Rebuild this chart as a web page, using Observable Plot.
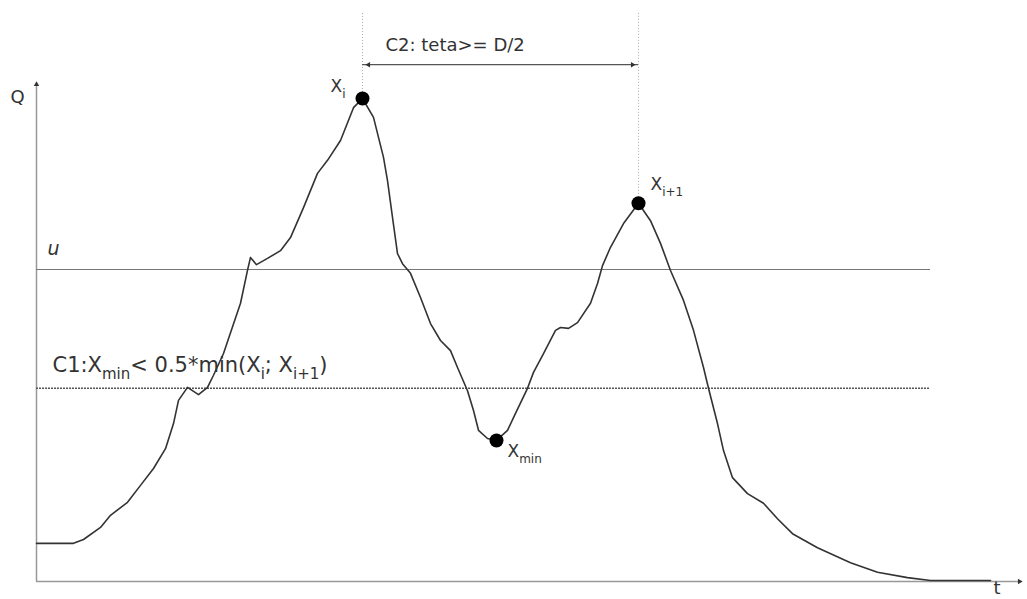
<!DOCTYPE html>
<html><head><meta charset="utf-8">
<script src="https://cdn.jsdelivr.net/npm/d3@7"></script>
<script src="https://cdn.jsdelivr.net/npm/@observablehq/plot@0.6"></script>
<style>body{margin:0;background:#fff;}</style>
</head><body><div id="chart"></div>
<script>
// Hydrograph (time t, discharge Q in arbitrary units)
const curveT = [0, 3.7, 4.7, 6.4, 7.4, 9.1, 10.4, 11.7, 12.9, 13.7, 14.2, 15.1, 16.2, 17.1, 17.7, 18.7, 20.4, 21.1, 21.4, 22.0, 23.1, 24.4, 25.4, 26.7, 28.1, 29.1, 30.4, 31.7, 32.6,
  33.7, 34.7, 35.1, 35.6, 36.1, 36.6, 37.4, 38.4, 39.4, 40.4, 41.4, 42.1, 43.1, 43.7, 44.2, 45.1, 46.0,
  47.1, 47.9, 49.1, 49.7, 50.7, 51.9, 52.4, 53.2, 54.1, 55.4, 56.1, 56.6, 57.4, 58.7, 60.2,
  61.4, 62.4, 63.4, 64.7, 65.7, 66.7, 67.2, 68.1, 68.7, 69.6, 71.1, 72.7, 74.1, 75.6, 78.1, 81.4, 84.1, 87.1, 89.4, 95.4];
const curveQ = [7.9, 7.9, 8.7, 11.2, 13.7, 16.4, 19.9, 23.4, 27.5, 32.7, 37.5, 40.2, 38.7, 40.2, 42.7, 47.2, 57.6, 64.4, 67.1, 65.6, 66.9, 68.5, 71.2, 77.4, 84.5, 87.2, 91.3, 98.1, 100,
  96.1, 87.8, 83.0, 75.4, 67.9, 65.8, 63.8, 58.8, 53.4, 49.9, 47.8, 44.3, 39.5, 35.4, 31.3, 29.6, 29.2,
  31.3, 34.8, 40.0, 43.3, 47.2, 52.0, 52.6, 52.4, 53.6, 57.6, 61.7, 65.4, 69.2, 74.1, 78.3,
  74.7, 70.0, 64.4, 58.2, 52.0, 44.3, 40.0, 32.7, 27.1, 21.5, 18.2, 16.2, 13.0, 9.9, 7.0, 3.9, 1.9, 0.8, 0.2, 0.2];

const peakLabels = ["X_{i}", "X_{i+1}", "X_{min}"];
const peakT = [32.6, 60.2, 46.0];
const peakQ = [100, 78.3, 29.2];

const thresholdU = 64.6;
const thresholdC1 = 40.0;
const thresholdEndT = 89.4;

const uLabel = "u";
const c1Label = "C1:X_{min}< 0.5*min(X_{i}; X_{i+1})";
const c2Label = "C2: teta>= D/2";
const yAxisLabel = "Q";
const xAxisLabel = "t";

const curve = curveT.map((t, i) => ({t, q: curveQ[i]}));
const peaks = peakLabels.map((l, i) => ({label: l, t: peakT[i], q: peakQ[i]}));
const textColor = "#333";

const plot = Plot.plot({
  width: 1027, height: 599,
  marginLeft: 36, marginRight: 3, marginTop: 78, marginBottom: 18,
  x: {domain: [0, 98.8], axis: null},
  y: {domain: [0, 104.14], axis: null},
  style: {fontFamily: "DejaVu Sans, Verdana, sans-serif", background: "#fff", overflow: "visible"},
  marks: [
    // axes
    Plot.ruleX([0], {y1: 0, y2: 103, stroke: "#999", strokeWidth: 1.5}),
    Plot.ruleY([0], {x1: 0, x2: 98.2, stroke: "#999", strokeWidth: 1.5}),
    Plot.dot([{t: 0, q: 102.9}], {x: "t", y: "q", symbol: "triangle2", r: 2.6, fill: "#333", rotate: 0}),
    Plot.dot([{t: 98.3, q: 0}], {x: "t", y: "q", symbol: "triangle2", r: 2.6, fill: "#333", rotate: 90}),
    // thresholds
    Plot.ruleY([thresholdU], {x1: 0, x2: thresholdEndT, stroke: "#777", strokeWidth: 1.2}),
    Plot.ruleY([thresholdC1], {x1: 0, x2: thresholdEndT, stroke: "#555", strokeWidth: 1.4, strokeDasharray: "2,1"}),
    // vertical dotted guides
    Plot.ruleX(peaks.slice(0, 2), {x: "t", y1: "q", y2: 117.7, stroke: "#aaa", strokeWidth: 1, strokeDasharray: "1,2"}),
    // C2 dimension arrow
    Plot.ruleY([107], {x1: peakT[0], x2: peakT[1], stroke: "#555", strokeWidth: 1.2}),
    Plot.dot([{t: peakT[0] + 0.6, q: 107, r: -90}, {t: peakT[1] - 0.6, q: 107, r: 90}], {x: "t", y: "q", rotate: "r", symbol: "triangle2", r: 2.6, fill: "#333"}),
    // hydrograph
    Plot.line(curve, {x: "t", y: "q", stroke: "#333", strokeWidth: 1.6, curve: "linear"}),
    Plot.dot(peaks, {x: "t", y: "q", r: 7, fill: "#000"}),
    // labels
    Plot.text([peaks[0]], {x: "t", y: "q", text: "label", dx: -32, dy: -12, textAnchor: "start", fontSize: 17, fill: textColor}),
    Plot.text([peaks[1]], {x: "t", y: "q", text: "label", dx: 12, dy: -19, textAnchor: "start", fontSize: 17, fill: textColor}),
    Plot.text([peaks[2]], {x: "t", y: "q", text: "label", dx: 11, dy: 11, textAnchor: "start", fontSize: 17, fill: textColor}),
    Plot.text([c2Label], {x: 34.9, y: 111, text: d => d, textAnchor: "start", fontSize: 18, fill: textColor}),
    Plot.text([c1Label], {x: 1.6, y: 44.7, text: d => d, textAnchor: "start", fontSize: 21, fill: textColor}),
    Plot.text([uLabel], {x: 1.1, y: 68.9, text: d => d, textAnchor: "start", fontSize: 19, fontStyle: "italic", fill: textColor}),
    Plot.text([yAxisLabel], {x: -2.6, y: 100.2, text: d => d, textAnchor: "start", fontSize: 18, fill: textColor}),
    Plot.text([xAxisLabel], {x: 95.7, y: -1.3, text: d => d, textAnchor: "start", fontSize: 18, fill: textColor})
  ]
});

// turn _{...} into subscripts
d3.select(plot).selectAll("text").each(function() {
  const s = this.textContent;
  if (!s.includes("_{")) return;
  const fs = parseFloat(this.getAttribute("font-size")) || parseFloat(d3.select(this.parentNode).attr("font-size")) || 17;
  const subSize = Math.round(fs * 0.72);
  const shift = Math.round(fs * 0.33);
  const parts = s.split(/_\{([^}]*)\}/);
  const sel = d3.select(this);
  sel.text(null);
  let shifted = false;
  parts.forEach((p, i) => {
    if (!p) return;
    const ts = sel.append("tspan").text(p);
    if (i % 2 === 1) {
      ts.attr("font-size", subSize);
      if (!shifted) { ts.attr("dy", shift); shifted = true; }
    } else if (shifted) {
      ts.attr("dy", -shift); shifted = false;
    }
  });
});

document.getElementById("chart").appendChild(plot);
</script>
</body></html>
